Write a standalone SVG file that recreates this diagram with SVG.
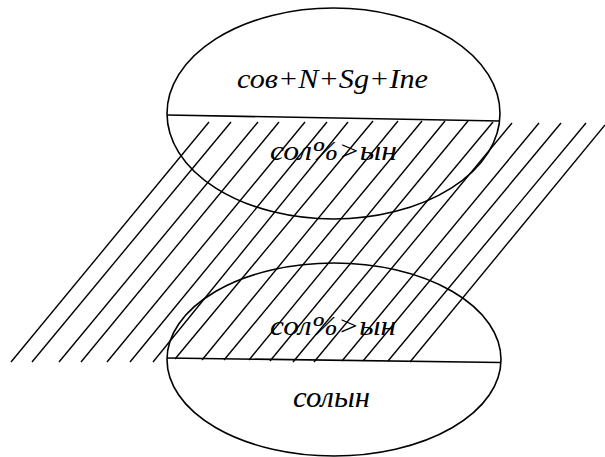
<svg xmlns="http://www.w3.org/2000/svg" width="605" height="457" viewBox="0 0 605 457">
<style>
.shape{fill:none;stroke:#000;stroke-width:1.6}
.div{stroke:#000;stroke-width:1.6}
.hatch line{stroke:#000;stroke-width:1.4}
.lbl{font-family:"Liberation Serif","Times New Roman",serif;font-style:italic;fill:#000;text-anchor:start}
</style>
<rect width="605" height="457" fill="#fff"/>
<g id="hatching" class="hatch">
<line x1="11" y1="362" x2="209" y2="122"/>
<line x1="32" y1="362" x2="231" y2="122"/>
<line x1="59" y1="362" x2="258" y2="122"/>
<line x1="81" y1="362" x2="279" y2="122"/>
<line x1="107" y1="362" x2="305" y2="122"/>
<line x1="130" y1="362" x2="327" y2="122"/>
<line x1="153" y1="362" x2="348" y2="122"/>
<line x1="175" y1="359" x2="373" y2="121"/>
<line x1="202" y1="360" x2="398" y2="121"/>
<line x1="224" y1="360" x2="422" y2="121"/>
<line x1="249" y1="360" x2="445" y2="121"/>
<line x1="270" y1="361" x2="468" y2="121"/>
<line x1="293" y1="362" x2="493" y2="122"/>
<line x1="314" y1="362" x2="512" y2="123"/>
<line x1="342" y1="361" x2="539" y2="123"/>
<line x1="363" y1="361" x2="561" y2="123"/>
<line x1="388" y1="361" x2="586" y2="123"/>
<line x1="410" y1="362" x2="605" y2="125"/>
</g>
<g id="top-node">
<ellipse class="shape" cx="333.5" cy="113.5" rx="166.5" ry="105.5"/>
<line class="div" x1="167" y1="115" x2="500" y2="121"/>
<text class="lbl" x="237" y="88" font-size="28" textLength="191" lengthAdjust="spacingAndGlyphs">сов+N+Sg+Ine</text>
<text class="lbl" x="270" y="160" font-size="27" textLength="127" lengthAdjust="spacingAndGlyphs">сол%&gt;ын</text>
</g>
<g id="bottom-node">
<ellipse class="shape" cx="334" cy="359.5" rx="167" ry="96.5"/>
<line class="div" x1="167" y1="358" x2="501" y2="362.5"/>
<text class="lbl" x="270" y="335" font-size="27" textLength="126" lengthAdjust="spacingAndGlyphs">сол%&gt;ын</text>
<text class="lbl" x="293" y="407" font-size="30" textLength="77" lengthAdjust="spacingAndGlyphs">солын</text>
</g>
</svg>
